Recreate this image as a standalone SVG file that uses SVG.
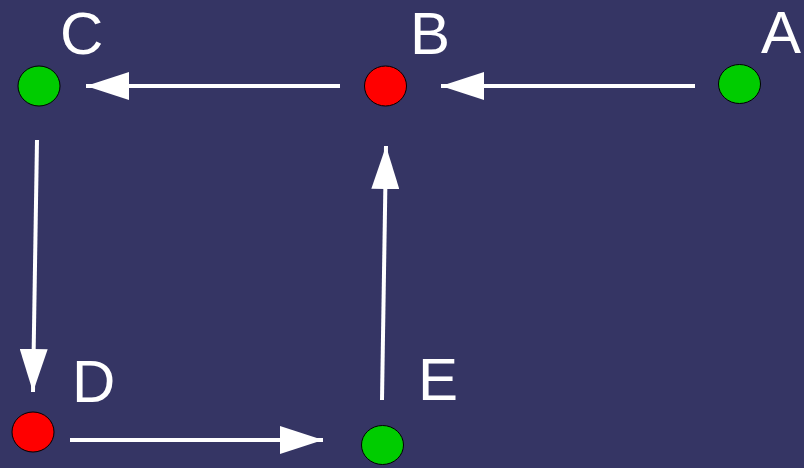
<svg xmlns="http://www.w3.org/2000/svg" width="804" height="468" viewBox="0 0 804 468">
  <defs>
    <marker id="ah" markerUnits="userSpaceOnUse" markerWidth="44" markerHeight="28" refX="43" refY="14" orient="auto">
      <path d="M0,0 L43,14 L0,28 z" fill="#ffffff"/>
    </marker>
    <style>
      .edge { stroke: #ffffff; stroke-width: 4; fill: none; marker-end: url(#ah); }
      .green { fill: #00cc00; stroke: #000000; stroke-width: 1; }
      .red { fill: #ff0000; stroke: #000000; stroke-width: 1; }
      .label { font-family: "Liberation Sans", Arial, sans-serif; font-size: 60px; fill: #ffffff; }
    </style>
  </defs>
  <rect width="804" height="468" fill="#353564"/>
  <g id="connectors">
    <line class="edge" x1="695" y1="86" x2="441" y2="86"/>
    <line class="edge" x1="340" y1="86" x2="86" y2="86"/>
    <line class="edge" x1="37" y1="140" x2="33" y2="392"/>
    <line class="edge" x1="70" y1="440" x2="323" y2="440"/>
    <line class="edge" x1="382" y1="400" x2="386" y2="146"/>
  </g>
  <g id="A">
    <ellipse class="green" cx="739.5" cy="84" rx="21" ry="19.5"/>
    <text class="label" x="761" y="53">A</text>
  </g>
  <g id="B">
    <ellipse class="red" cx="385.5" cy="86" rx="21" ry="20"/>
    <text class="label" x="410" y="54">B</text>
  </g>
  <g id="C">
    <ellipse class="green" cx="39" cy="86" rx="21" ry="20"/>
    <text class="label" x="60" y="54">C</text>
  </g>
  <g id="D">
    <ellipse class="red" cx="33" cy="432" rx="21" ry="20"/>
    <text class="label" x="72" y="402">D</text>
  </g>
  <g id="E">
    <ellipse class="green" cx="382.5" cy="445" rx="21" ry="19.5"/>
    <text class="label" x="418" y="400">E</text>
  </g>
</svg>
